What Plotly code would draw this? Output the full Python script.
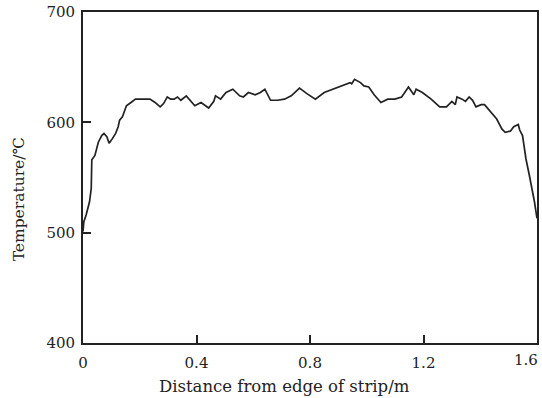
import plotly.graph_objects as go

distance_m = [0.0, 0.003, 0.011, 0.023, 0.029, 0.031, 0.042, 0.054, 0.066, 0.074,
              0.084, 0.092, 0.103, 0.115, 0.124, 0.129, 0.139, 0.153, 0.169, 0.185,
              0.211, 0.236, 0.254, 0.272, 0.284, 0.297, 0.309, 0.321, 0.333, 0.345,
              0.364, 0.376, 0.394, 0.416, 0.431, 0.443, 0.461, 0.467, 0.485, 0.504,
              0.528, 0.552, 0.565, 0.583, 0.607, 0.625, 0.641, 0.661, 0.685, 0.710,
              0.734, 0.763, 0.789, 0.819, 0.850, 0.880, 0.917, 0.941, 0.947, 0.957,
              0.978, 0.990, 1.007, 1.026, 1.050, 1.074, 1.099, 1.123, 1.147, 1.166,
              1.174, 1.196, 1.227, 1.257, 1.281, 1.300, 1.312, 1.318, 1.336, 1.348,
              1.361, 1.373, 1.385, 1.403, 1.415, 1.440, 1.458, 1.476, 1.488, 1.506,
              1.518, 1.534, 1.539, 1.549, 1.561, 1.573, 1.583, 1.591, 1.600]

temperature_c = [501, 510, 516, 528, 540, 566, 570, 582, 588, 590,
                 587, 581, 585, 590, 596, 602, 605, 615, 618, 621,
                 621, 621, 618, 614, 617, 623, 621, 621, 623, 620,
                 624, 620, 615, 618, 615, 613, 619, 624, 621, 627,
                 630, 624, 623, 627, 625, 627, 630, 620, 620, 621,
                 624, 631, 626, 621, 627, 630, 634, 636, 635, 639,
                 636, 633, 632, 625, 618, 621, 621, 623, 632, 625,
                 630, 627, 621, 614, 614, 619, 616, 623, 621, 619,
                 623, 620, 614, 616, 616, 609, 603, 594, 591, 592,
                 596, 598, 593, 588, 567, 552, 540, 528, 513]

x_ticks = [0, 0.4, 0.8, 1.2, 1.6]
x_tick_labels = ["0", "0.4", "0.8", "1.2", "1.6"]
y_ticks = [400, 500, 600, 700]
y_tick_labels = ["400", "500", "600", "700"]

x_title = "Distance from edge of strip/m"
y_title = "Temperature/℃"

FONT = "DejaVu Serif"
INK = "#222222"

fig = go.Figure()
fig.add_trace(go.Scatter(x=distance_m, y=temperature_c, mode="lines",
                         line=dict(color=INK, width=1.7), showlegend=False,
                         hoverinfo="skip"))

axis_common = dict(showline=True, linecolor=INK, linewidth=1.8, mirror=True,
                   ticks="inside", ticklen=8, tickwidth=1.6, tickcolor=INK,
                   showgrid=False, zeroline=False,
                   tickfont=dict(family=FONT, size=15, color=INK))

# last x label drawn as an annotation, right-aligned so it stays inside the page
shown_x_labels = x_tick_labels[:-1] + [""]
fig.update_xaxes(range=[0, 1.6], tickvals=x_ticks, ticktext=shown_x_labels,
                 ticklabelstandoff=5, **axis_common)
fig.update_yaxes(range=[400, 700], tickvals=y_ticks, ticktext=y_tick_labels,
                 ticklabelstandoff=3, **axis_common)

fig.add_annotation(text=x_tick_labels[-1], xref="x", yref="paper", x=x_ticks[-1], y=0,
                   xanchor="right", yanchor="middle", xshift=3, yshift=-17,
                   showarrow=False, font=dict(family=FONT, size=15, color=INK))

fig.add_annotation(text=x_title, xref="paper", yref="paper", x=0.443, y=-0.13,
                   xanchor="center", yanchor="middle", showarrow=False,
                   font=dict(family=FONT, size=16.5, color=INK))
fig.add_annotation(text=y_title, xref="paper", yref="paper", x=-0.141, y=0.434,
                   xanchor="center", yanchor="middle", showarrow=False, textangle=-90,
                   font=dict(family=FONT, size=15.5, color=INK))

fig.update_layout(width=542, height=398, margin=dict(l=83, r=3, t=11, b=55),
                  plot_bgcolor="white", paper_bgcolor="white", hovermode=False)

fig.write_html("out.html", config={"displayModeBar": False},
               post_script="document.body.style.margin='0';")
